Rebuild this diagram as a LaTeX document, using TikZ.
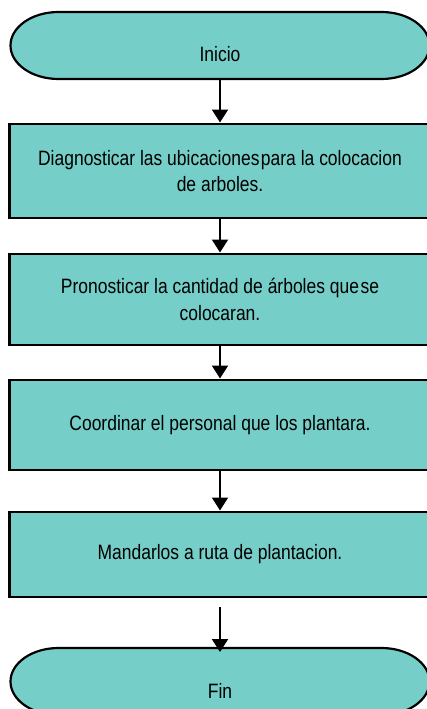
\documentclass[tikz,border=0pt]{standalone}
\usepackage{fontspec}
\setmainfont{Liberation Sans}[FakeStretch=0.84]
\usetikzlibrary{arrows.meta,backgrounds,positioning}
\definecolor{flowteal}{RGB}{118,206,200}

\begin{document}
\begin{tikzpicture}[x=1pt,y=1pt,>={Triangle[length=13pt,width=16pt]},
  every node/.style={font=\fontsize{20.8}{26.5}\selectfont},
  paso/.style={draw,line width=2.4pt,fill=flowteal,minimum width=421pt,outer sep=0pt,align=center},
  term/.style={minimum width=419pt,minimum height=67pt,inner ysep=0pt,outer sep=0pt,text height=50pt,text depth=17pt},
  flecha/.style={->,line width=2pt,shorten >=1.5pt}]
\useasboundingbox (0,0) rectangle (426,-709);
\node[term] (ini) at (220,-45.5) {Inicio};
\node[paso,minimum height=94pt,below=45pt of ini] (diag) {Diagnosticar las ubicaciones\kern1.5pt para la colocacion\\de arboles.};
\node[paso,minimum height=91pt,below=36pt of diag] (pron) {Pronosticar la cantidad de árboles que\kern1.5pt se\\colocaran.};
\node[paso,minimum height=90pt,below=35pt of pron] (coord) {Coordinar el personal que los plantara.};
\node[paso,minimum height=85pt,below=42pt of coord] (mand) {Mandarlos a ruta de plantacion.};
\node[term,below=51pt of mand] (fin) {Fin};
% terminales
\begin{scope}[on background layer]
\foreach \t in {ini,fin}
  \draw[line width=2.2pt,fill=flowteal] ([xshift=48pt]\t.north west) -- ([xshift=-48pt]\t.north east)
    arc[start angle=90,end angle=-90,x radius=48pt,y radius=33.5pt] -- ([xshift=48pt]\t.south west)
    arc[start angle=270,end angle=90,x radius=48pt,y radius=33.5pt] -- cycle;
\end{scope}
\draw[flecha] (ini) -- (diag);
\draw[flecha] (diag) -- (pron);
\draw[flecha] (pron) -- (coord);
\draw[flecha] (coord) -- (mand);
\draw[flecha,shorten >=-4pt] ([yshift=-10pt]mand.south) -- (fin.north);
\end{tikzpicture}
\end{document}
